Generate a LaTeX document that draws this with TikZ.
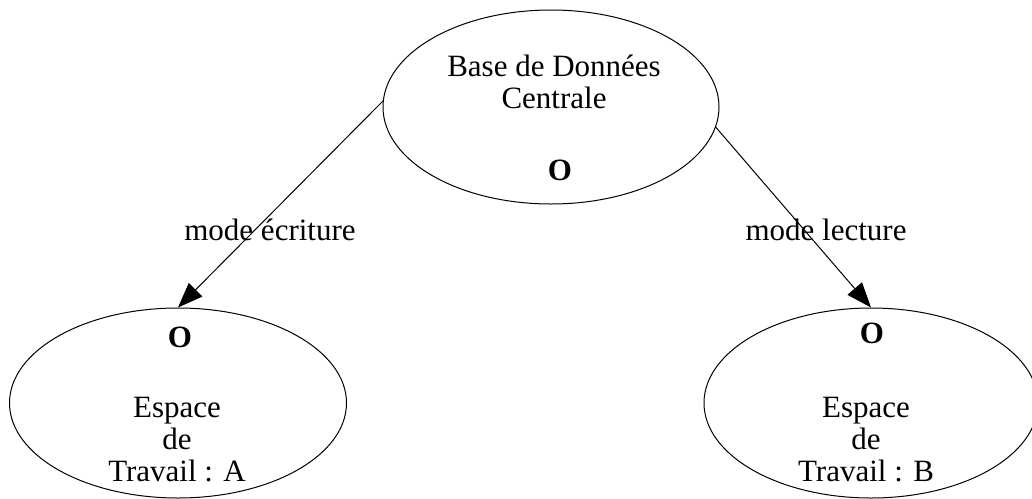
\documentclass[tikz,border=0pt]{standalone}
\usepackage{fontspec}
\setmainfont{Liberation Serif}
\usetikzlibrary{shapes.geometric,arrows.meta}
\tikzset{
  oval/.style={draw, line width=1pt, ellipse, inner sep=0pt},
  txt/.style={font=\fontsize{31}{32}\selectfont, align=center, inner sep=0pt},
  bigo/.style={font=\fontsize{31}{32}\selectfont\bfseries, inner sep=0pt},
  link/.style={line width=1pt, -{Triangle[length=25pt,width=19pt]}}
}
\begin{document}
\begin{tikzpicture}[x=1pt,y=-1pt]
\useasboundingbox (0,0) rectangle (1032,498);
\node[oval, minimum width=336pt, minimum height=194pt] (C) at (551,107) {};
\node[oval, minimum width=337pt, minimum height=190pt] (A) at (178,403) {};
\node[oval, minimum width=334pt, minimum height=190pt] (B) at (871,403) {};
\node[txt] (Ct) at (554,82) {Base de Données\\Centrale};
\node[bigo] (Co) at (560,170) {O};
\node[bigo] (Ao) at (180,337) {O};
\node[bigo] (Bo) at (872,333) {O};
\node[txt] (At) at (177,440) {Espace\\ de\\ Travail : A};
\node[txt] (Bt) at (866,440) {Espace\\ de\\ Travail : B};
\node[txt] (La) at (270,230) {mode écriture};
\node[txt] (Lb) at (826,230) {mode lecture};
\draw[link] (C.178) -- (A.north);
\draw[link] (C.353) -- (B.north);
\end{tikzpicture}
\end{document}
